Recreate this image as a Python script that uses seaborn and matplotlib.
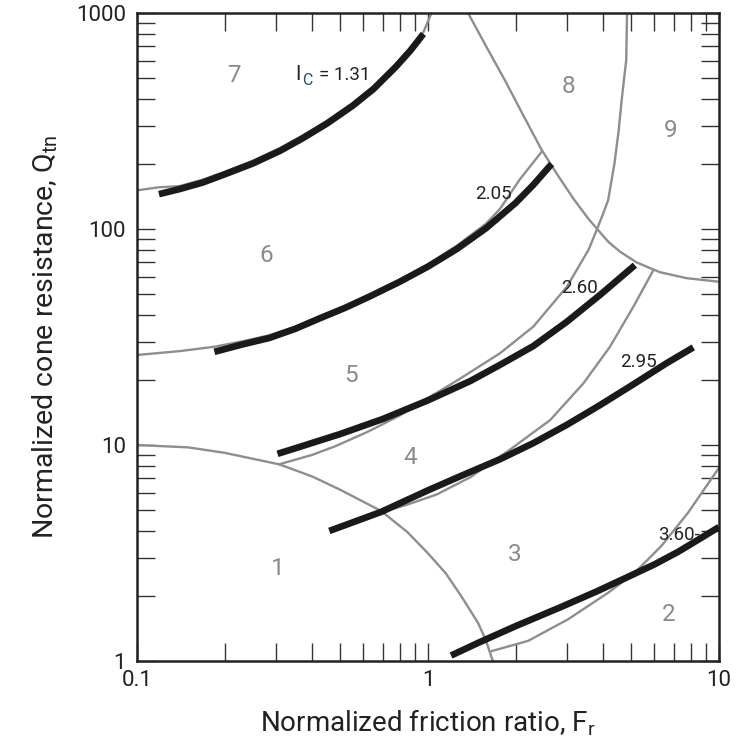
import numpy as np
import pandas as pd
import matplotlib
matplotlib.use("Agg")
import matplotlib.pyplot as plt
import seaborn as sns
from matplotlib.ticker import LogLocator, NullFormatter

# ---------------- data ----------------
# Ic contours (thick black)
IC131_FR = [0.119, 0.14, 0.168, 0.2, 0.25, 0.31, 0.371, 0.45, 0.551, 0.65, 0.776, 0.87, 0.964]
IC131_Q = [145, 153, 164, 179, 201, 230, 263, 308, 372, 445, 564, 670, 800]

IC205_FR = [0.1845, 0.23, 0.285, 0.35, 0.423, 0.52, 0.628, 0.8, 1.0, 1.26, 1.585, 2.0, 2.3, 2.66]
IC205_Q = [27.0, 29.2, 31.3, 34.5, 38.5, 43.2, 48.6, 57, 67, 81, 101, 132, 160, 200]

IC260_FR = [0.304, 0.371, 0.5, 0.7, 1.0, 1.4, 1.768, 2.3, 3.0, 3.9, 5.14]
IC260_Q = [9.1, 9.9, 11.25, 13.2, 16.1, 19.8, 23.5, 28.7, 37.2, 49.5, 68]

IC295_FR = [0.458, 0.69, 1.0, 1.3, 1.77, 2.3, 3.0, 3.9, 5.08, 6.6, 8.16]
IC295_Q = [4.0, 4.9, 6.17, 7.2, 8.6, 10.2, 12.4, 15.3, 19.1, 23.9, 28.3]

IC360_FR = [1.20, 1.5, 2.0, 2.87, 3.8, 4.86, 6.0, 7.23, 8.5, 10.0]
IC360_Q = [1.06, 1.22, 1.45, 1.78, 2.1, 2.45, 2.8, 3.2, 3.65, 4.17]

# Zone boundaries (thin grey)
Z1_FR = [0.1, 0.15, 0.2, 0.308, 0.4, 0.5, 0.69, 0.85, 1.0, 1.15, 1.3, 1.486, 1.58, 1.67]
Z1_Q = [10, 9.75, 9.2, 8.14, 7.15, 6.2, 4.95, 3.95, 3.15, 2.55, 2.0, 1.5, 1.25, 1.0]

Z45_FR = [0.308, 0.4, 0.483, 0.628, 0.8, 1.0, 1.268, 1.768, 2.3, 3.0, 3.56, 3.80, 4.0, 4.16, 4.37, 4.52, 4.63, 4.80, 4.83]
Z45_Q = [8.14, 9.0, 9.9, 11.6, 13.7, 16.5, 20.0, 26.6, 35.3, 54, 80, 99, 118, 136, 200, 285, 396, 606, 1000]

Z34_FR = [0.70, 0.85, 1.071, 1.4, 1.91, 2.63, 3.42, 4.22, 5.08, 5.95]
Z34_Q = [4.9, 5.3, 5.9, 7.1, 9.5, 13.05, 19.3, 28.5, 43.7, 64.5]

Z56_FR = [0.1, 0.14, 0.1845, 0.23, 0.285, 0.35, 0.423, 0.52, 0.628, 0.8, 1.0, 1.26, 1.585, 1.768, 2.07, 2.459]
Z56_Q = [26.1, 27.2, 28.5, 30.2, 32.2, 35.3, 39.3, 44, 49.5, 58, 68.5, 84, 106, 124, 170, 228]

Z89_FR = [1.373, 1.585, 1.835, 2.138, 2.451, 2.818, 3.162, 3.548, 3.84, 4.169, 4.571, 5.212, 6.266, 7.745, 10.0]
Z89_Q = [1000, 700, 490, 331, 234, 174, 138, 112, 98.9, 87.1, 78.5, 70.0, 63.1, 59.2, 57.0]

Z67_FR = [0.1, 0.119, 0.14, 0.168, 0.2, 0.25, 0.31, 0.371, 0.45, 0.551, 0.65, 0.776, 0.87, 0.964, 1.0, 1.028]
Z67_Q = [151, 156, 158, 169, 184, 207, 237, 271, 317, 383, 458, 581, 690, 815, 916, 1000]

Z23_FR = [1.65, 2.21, 3.03, 4.16, 5.13, 6.34, 7.83, 9.92, 10.0]
Z23_Q = [1.11, 1.24, 1.56, 2.07, 2.56, 3.41, 4.86, 7.72, 7.85]

ZONE_LABELS = ["1", "2", "3", "4", "5", "6", "7", "8", "9"]
ZONE_FR = [0.3044, 6.722, 1.980, 0.8652, 0.5416, 0.2776, 0.2160, 3.047, 6.797]
ZONE_Q = [2.494, 1.532, 2.904, 8.14, 19.64, 70.6, 480.8, 424.9, 267.5]

IC_LABELS = ["2.05", "2.60", "2.95", "3.60-"]
IC_LABEL_FR = [1.447, 2.871, 4.57, 6.17]
IC_LABEL_Q = [137, 50.4, 23.0, 3.63]

X_TICKS = [0.1, 1, 10]
X_TICKLABELS = ["0.1", "1", "10"]
Y_TICKS = [1, 10, 100, 1000]
Y_TICKLABELS = ["1", "10", "100", "1000"]

# ---------------- build long table ----------------
black_sets = {"1.31": (IC131_FR, IC131_Q), "2.05": (IC205_FR, IC205_Q),
              "2.60": (IC260_FR, IC260_Q), "2.95": (IC295_FR, IC295_Q),
              "3.60": (IC360_FR, IC360_Q)}
grey_sets = {"z1": (Z1_FR, Z1_Q), "z45": (Z45_FR, Z45_Q), "z34": (Z34_FR, Z34_Q),
             "z56": (Z56_FR, Z56_Q), "z89": (Z89_FR, Z89_Q), "z67": (Z67_FR, Z67_Q),
             "z23": (Z23_FR, Z23_Q)}
rows = []
for kind, sets in (("grey", grey_sets), ("black", black_sets)):
    for name, (fr, q) in sets.items():
        for i, (a, b) in enumerate(zip(fr, q)):
            rows.append({"kind": kind, "curve": name, "order": i, "Fr": a, "Q": b})
df = pd.DataFrame(rows)

# ---------------- figure ----------------
sns.set_theme(style="white")
plt.rcParams["font.family"] = ["Roboto", "DejaVu Sans"]
plt.rcParams["mathtext.fontset"] = "custom"
plt.rcParams["mathtext.rm"] = "Roboto"

fig = plt.figure(figsize=(7.38, 7.40), dpi=100)
ax = fig.add_axes([137 / 738, 1 - 661 / 740, 582 / 738, 648 / 740])
ax.set_xscale("log")
ax.set_yscale("log")

GREY = "#8e8e8e"
for name in grey_sets:
    d = df[(df.kind == "grey") & (df.curve == name)]
    sns.lineplot(data=d, x="Fr", y="Q", sort=False, estimator=None, ax=ax,
                 color=GREY, linewidth=1.7, zorder=2, legend=False)
for name in black_sets:
    d = df[(df.kind == "black") & (df.curve == name)]
    sns.lineplot(data=d, x="Fr", y="Q", sort=False, estimator=None, ax=ax,
                 color="#1a1a1a", linewidth=4.8, zorder=3, legend=False,
                 solid_capstyle="butt")

ax.set_xlim(0.1, 10)
ax.set_ylim(1, 1000)
ax.set_xticks(X_TICKS, labels=X_TICKLABELS)
ax.set_yticks(Y_TICKS, labels=Y_TICKLABELS)
ax.xaxis.set_minor_locator(LogLocator(base=10, subs=np.arange(2, 10)))
ax.yaxis.set_minor_locator(LogLocator(base=10, subs=np.arange(2, 10)))
ax.xaxis.set_minor_formatter(NullFormatter())
ax.yaxis.set_minor_formatter(NullFormatter())
ax.tick_params(which="both", direction="in", length=13, width=1.0,
               top=True, right=True, bottom=True, left=True, colors="#333333")
ax.tick_params(axis="x", which="major", labelsize=16, pad=6.5, labelcolor="#222222")
ax.tick_params(axis="y", which="major", labelsize=16, pad=8, labelcolor="#222222")
for s in ax.spines.values():
    s.set_linewidth(1.8)
    s.set_color("#222222")
    s.set_visible(True)

ax.set_xlabel("Normalized friction ratio, F$_\\mathregular{r}$", fontsize=20,
              labelpad=12, color="#222222")
ax.set_ylabel("Normalized cone resistance, Q$_\\mathregular{tn}$", fontsize=20.5,
              labelpad=11.5, color="#222222")

for lab, x, y in zip(ZONE_LABELS, ZONE_FR, ZONE_Q):
    ax.text(x, y, lab, fontsize=17.5, color="#8a8a8a", ha="center", va="baseline", zorder=4)
for lab, x, y in zip(IC_LABELS, IC_LABEL_FR, IC_LABEL_Q):
    ax.text(x, y, lab, fontsize=13.5, color="#222222", ha="left", va="baseline", zorder=4)
ax.text(0.3491, 489.7, "I", fontsize=14.5, color="#222222", ha="left", va="baseline")
ax.text(0.3680, 464.2, "C", fontsize=11.5, color="#2e4a7a", ha="left", va="baseline")
ax.text(0.4211, 489.7, "= 1.31", fontsize=13.5, color="#222222", ha="left", va="baseline")

fig.savefig("out.png", dpi=100, facecolor="white")
